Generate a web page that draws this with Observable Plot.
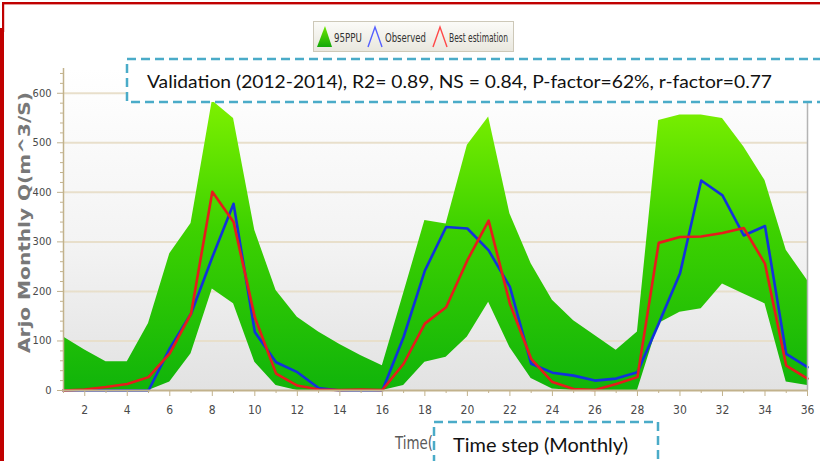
<!DOCTYPE html>
<html><head><meta charset="utf-8">
<script src="https://cdn.jsdelivr.net/npm/d3@7"></script>
<script src="https://cdn.jsdelivr.net/npm/@observablehq/plot@0.6"></script>
<style>
html,body{margin:0;padding:0;background:#fff;}
#wrap{position:relative;width:820px;height:461px;overflow:hidden;}
#overlay{position:absolute;left:0;top:0;}
</style></head><body><div id="wrap"></div>
<script>
// ---- data ----
const months = d3.range(1, 37);
const ppuLower = [0,0,0,0,0,17,74,205,175,57,10,0,0,0,0,0,10,57,67,108,178,87,24,3,0,0,0,0,135,158,165,215,195,175,17,10];
const ppuUpper = [108,82,58,58,135,276,337,585,549,323,202,148,118,93,70,50,196,343,336,495,552,357,256,182,141,111,81,118,545,556,556,549,492,424,283,222];
const observed = [0,0,0,0,0,85,155,269,377,118,57,37,5,0,0,0,108,242,330,327,283,209,54,36,30,20,24,37,135,236,424,394,313,332,74,47];
const bestEstimation = [0,2,7,13,27,75,155,401,340,148,34,10,2,1,2,1,54,135,168,263,343,175,64,17,3,1,13,27,298,310,311,318,328,256,50,24];
const xTicks = d3.range(2, 37, 2);
const xMinor = d3.range(1, 37, 2);
const yTicks = [0, 100, 200, 300, 400, 500, 600];
const yMinor = d3.range(0, 651, 20).filter(d => d % 100 !== 0);
const yLabel = "Arjo Monthly Q(m^3/S)";
const legendLabels = ["95PPU", "Observed", "Best estimation"];
const noteText = "Validation (2012-2014), R2= 0.89, NS = 0.84, P-factor=62%, r-factor=0.77";
const xLabelText = "Time step (Monthly)";
const xAxisStub = "Time(";

const rows = months.map((m, i) => ({month: m, lower: ppuLower[i], upper: ppuUpper[i], observed: observed[i], best: bestEstimation[i]}));

const narrow = "'Liberation Sans Narrow','DejaVu Sans Condensed','Arial Narrow',sans-serif";
const tan = "#c2b28c";

const chart = Plot.plot({
  width: 820, height: 461,
  marginLeft: 63, marginRight: 13, marginTop: 68, marginBottom: 71,
  style: {background: "transparent", overflow: "visible"},
  x: {domain: [1, 36], axis: null},
  y: {domain: [0, 650], axis: null},
  marks: [
    Plot.frame({fill: "url(#bgGrad)", stroke: "none"}),
    Plot.gridY(yTicks.slice(1), {stroke: "#e8dfcb", strokeOpacity: 1, strokeWidth: 2}),
    Plot.areaY(rows, {x: "month", y1: "lower", y2: "upper", fill: "url(#ppuGrad)"}),
    Plot.lineY(rows, {x: "month", y: "observed", stroke: "#1232dc", strokeWidth: 2.6}),
    Plot.lineY(rows, {x: "month", y: "best", stroke: "#e61c1c", strokeWidth: 2.6}),
    Plot.ruleX([36], {stroke: "#b4b4b4", strokeWidth: 1.5}),
    Plot.ruleX([1], {stroke: tan, strokeWidth: 1.5}),
    Plot.ruleY([0], {stroke: tan, strokeWidth: 2}),
    Plot.axisX(xMinor, {tickSize: 3, tickFormat: () => "", stroke: tan, label: null}),
    Plot.axisX(xTicks, {tickSize: 6, tickPadding: 9, stroke: tan, fill: "#4a4a4a", fontSize: 12, fontFamily: narrow, label: null}),
    Plot.axisY(yMinor, {tickSize: 3, tickFormat: () => "", stroke: tan, label: null}),
    Plot.axisY(yTicks, {tickSize: 6, tickPadding: 6, stroke: tan, fill: "#4a4a4a", fontSize: 11, fontFamily: narrow, label: null})
  ]
});

const wrap = document.getElementById("wrap");
wrap.appendChild(chart);

// gradients
const svg = d3.select(chart);
const defs = svg.insert("defs", ":first-child");
const bg = defs.append("linearGradient").attr("id", "bgGrad").attr("gradientUnits", "userSpaceOnUse")
  .attr("x1", 0).attr("y1", 68).attr("x2", 0).attr("y2", 390);
bg.append("stop").attr("offset", 0).attr("stop-color", "#ffffff");
bg.append("stop").attr("offset", 0.55).attr("stop-color", "#f3f3f3");
bg.append("stop").attr("offset", 1).attr("stop-color", "#e2e2e2");
const pg = defs.append("linearGradient").attr("id", "ppuGrad").attr("gradientUnits", "userSpaceOnUse")
  .attr("x1", 0).attr("y1", 95).attr("x2", 0).attr("y2", 390);
pg.append("stop").attr("offset", 0).attr("stop-color", "#80f200");
pg.append("stop").attr("offset", 0.45).attr("stop-color", "#3ed200");
pg.append("stop").attr("offset", 1).attr("stop-color", "#10b40a");

// ---- overlay: border, y label, legend, annotation boxes ----
const ov = d3.select(wrap).append("svg").attr("id", "overlay").attr("width", 820).attr("height", 461)
  .attr("font-family", "Lato,'Open Sans',sans-serif");
const od = ov.append("defs");
const lg = od.append("linearGradient").attr("id", "legGrad").attr("x1", 0).attr("y1", 0).attr("x2", 0).attr("y2", 1);
lg.append("stop").attr("offset", 0).attr("stop-color", "#fbfbf8");
lg.append("stop").attr("offset", 1).attr("stop-color", "#e9e7de");
const tg = od.append("linearGradient").attr("id", "triGrad").attr("x1", 0).attr("y1", 0).attr("x2", 0).attr("y2", 1);
tg.append("stop").attr("offset", 0).attr("stop-color", "#6ee800");
tg.append("stop").attr("offset", 1).attr("stop-color", "#14a80a");

// red border
ov.append("rect").attr("x", 2).attr("y", 2).attr("width", 820).attr("height", 2.4).attr("fill", "#c00000");
ov.append("rect").attr("x", 2).attr("y", 2).attr("width", 2.2).attr("height", 30).attr("fill", "#c00000");
ov.append("rect").attr("x", 0).attr("y", 28).attr("width", 4).attr("height", 440).attr("fill", "#c00000");

// y-axis title
ov.append("text").attr("transform", "translate(30,353) rotate(-90)").attr("text-anchor", "start")
  .attr("font-size", 16).attr("font-weight", "bold").attr("fill", "#787878")
  .attr("font-family", "'DejaVu Sans',Verdana,sans-serif")
  .attr("textLength", 261).attr("lengthAdjust", "spacingAndGlyphs").text(yLabel);

// legend
ov.append("rect").attr("x", 313.5).attr("y", 21.5).attr("width", 200).attr("height", 30)
  .attr("fill", "url(#legGrad)").attr("stroke", "#cdc8b8");
ov.append("path").attr("d", "M317,47 L325,26 L332,47 Z").attr("fill", "url(#triGrad)");
ov.append("path").attr("d", "M368,47 L375,27 L382,47").attr("fill", "none").attr("stroke", "#5560ff").attr("stroke-width", 1.4);
ov.append("path").attr("d", "M433,47 L440,27 L447,47").attr("fill", "none").attr("stroke", "#ff4848").attr("stroke-width", 1.4);
const legX = [334, 385, 449], legW = [28, 41, 59];
legendLabels.forEach((t, i) => {
  ov.append("text").attr("x", legX[i]).attr("y", 42).attr("font-size", 13).attr("font-family", narrow)
    .attr("fill", "#333").attr("textLength", legW[i]).attr("lengthAdjust", "spacingAndGlyphs").text(t);
});

// annotation box
ov.append("rect").attr("x", 127).attr("y", 59).attr("width", 720).attr("height", 43)
  .attr("fill", "#fff").attr("stroke", "#4aabc8").attr("stroke-width", 2.5).attr("stroke-dasharray", "9 5");
ov.append("text").attr("x", 147).attr("y", 87.5).attr("font-size", 17).attr("fill", "#111")
  .attr("textLength", 625).attr("lengthAdjust", "spacingAndGlyphs").text(noteText);

// x-axis label stub + box
ov.append("text").attr("x", 395).attr("y", 449).attr("font-size", 18).attr("font-family", narrow)
  .attr("fill", "#5a5a5a").attr("textLength", 38).attr("lengthAdjust", "spacingAndGlyphs").text(xAxisStub);
ov.append("rect").attr("x", 434).attr("y", 422).attr("width", 224).attr("height", 70)
  .attr("fill", "#fff").attr("stroke", "#4aabc8").attr("stroke-width", 2.5).attr("stroke-dasharray", "9 5");
ov.append("text").attr("x", 453).attr("y", 451.5).attr("font-size", 20).attr("fill", "#111")
  .attr("textLength", 175).attr("lengthAdjust", "spacingAndGlyphs").text(xLabelText);
</script>
</body></html>
